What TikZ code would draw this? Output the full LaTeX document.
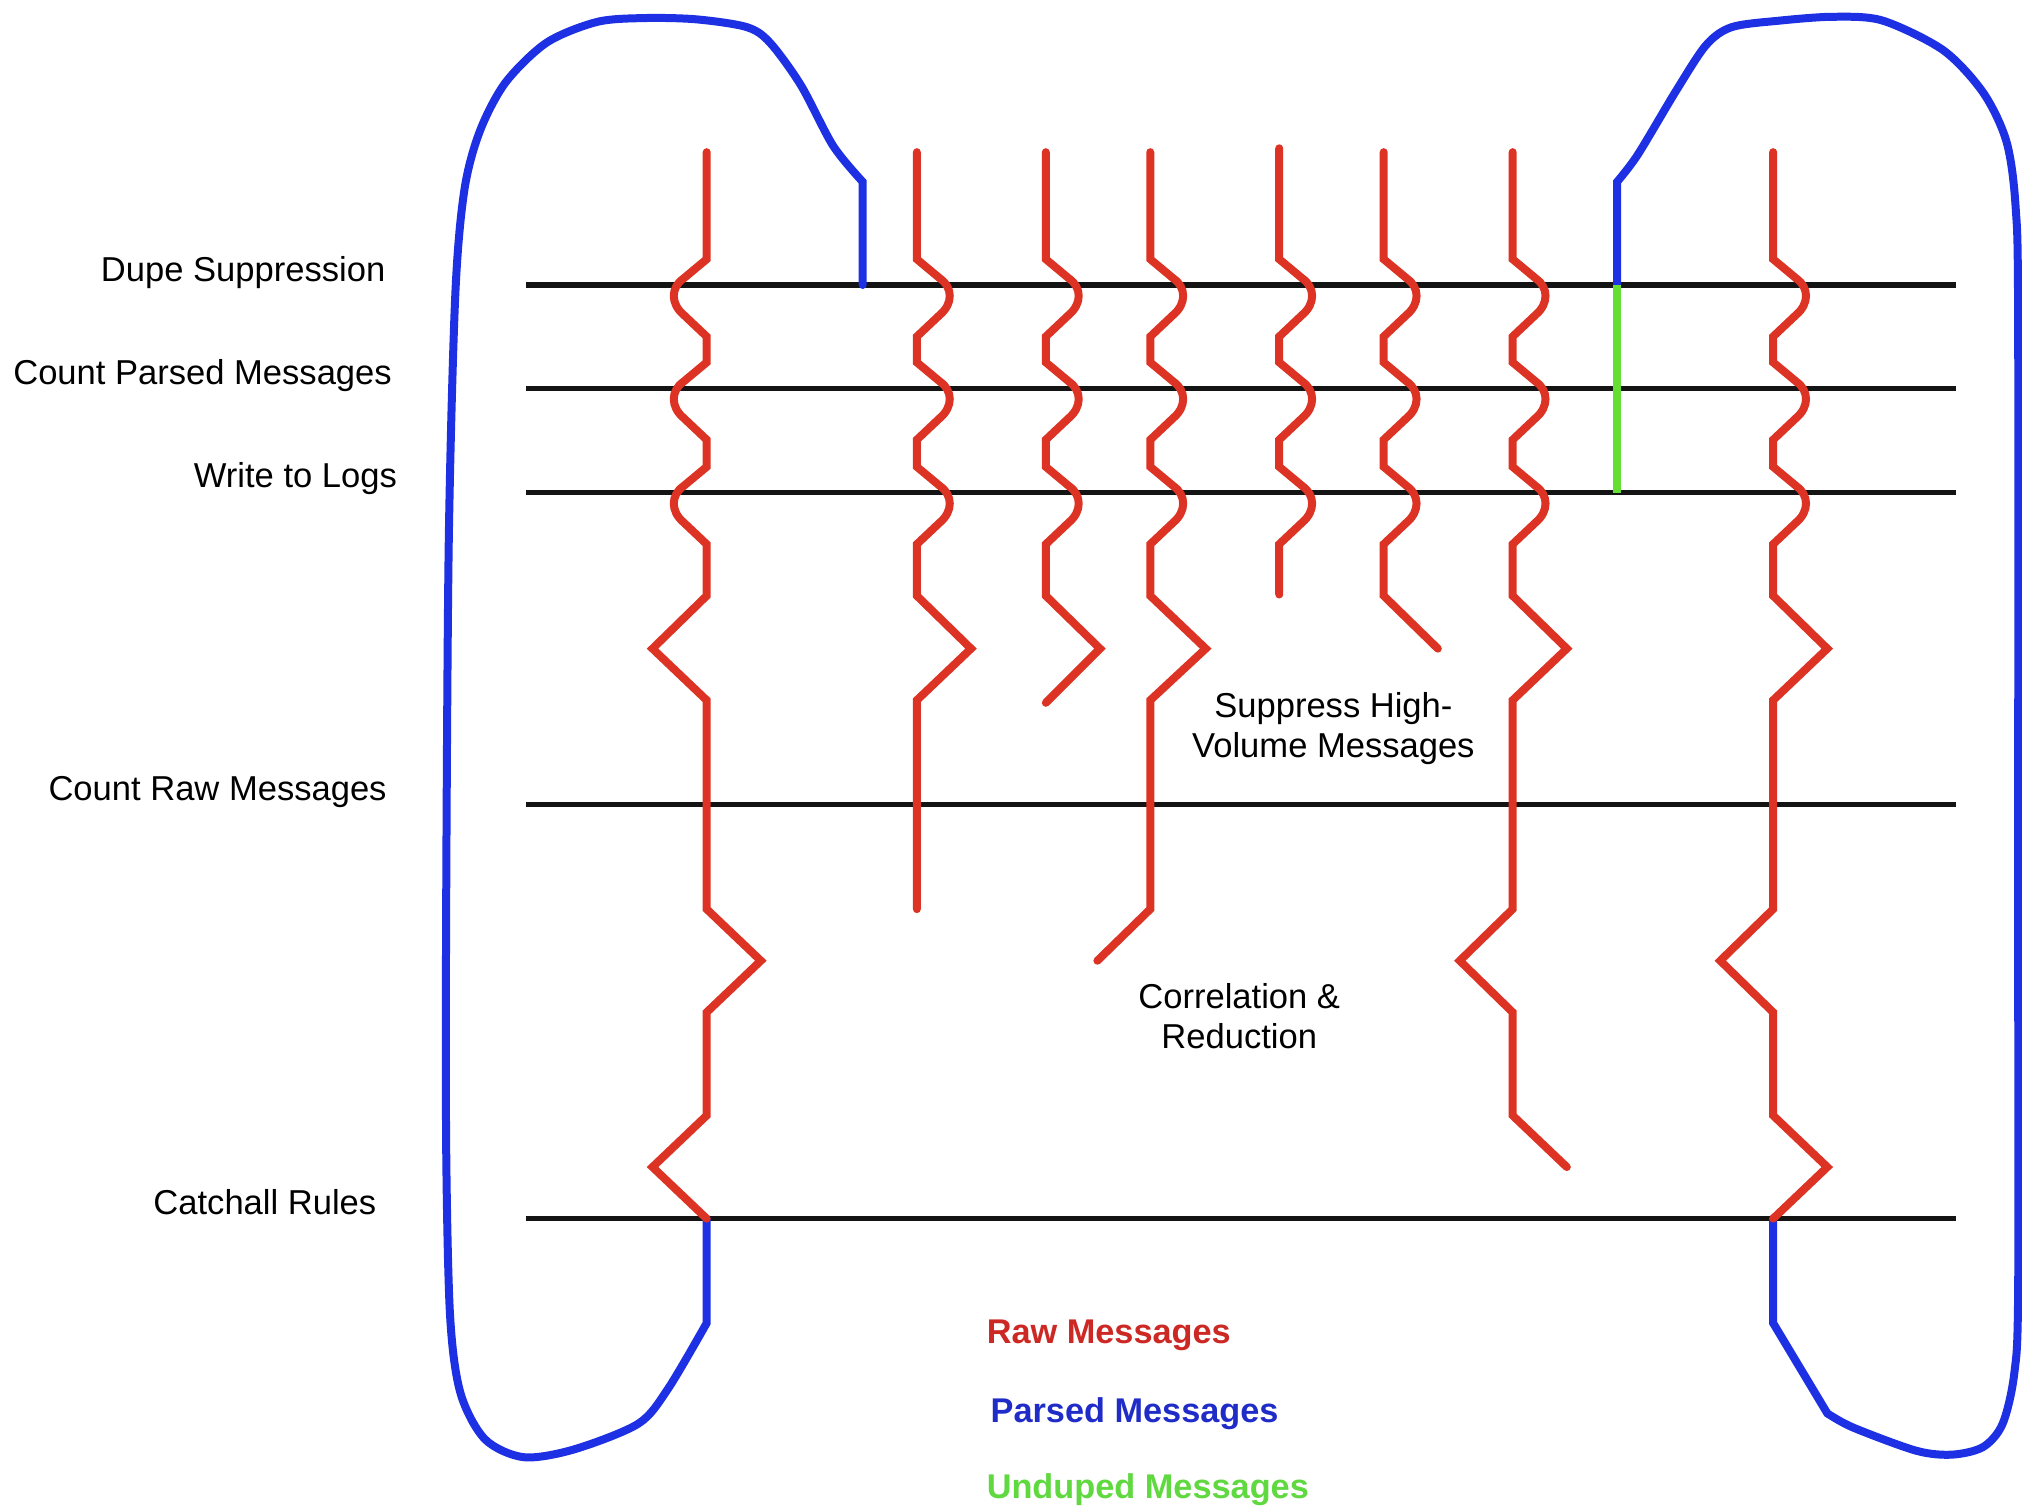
\documentclass[tikz,border=0pt]{standalone}
\usepackage{fontspec}
\setmainfont{Liberation Sans}

\definecolor{rawred}{RGB}{221,51,36}
\definecolor{parsedblue}{RGB}{30,48,228}
\definecolor{undupedgreen}{RGB}{102,222,52}
\definecolor{keyred}{RGB}{204,40,36}
\definecolor{keyblue}{RGB}{32,44,200}
\definecolor{keygreen}{RGB}{96,216,64}

\tikzset{
  stage/.style={line width=3.9pt, black!92},
  raw/.style={line width=6.2pt, rawred, line cap=round},
  parsed/.style={line width=6.2pt, parsedblue, line cap=round},
  unduped/.style={line width=6.2pt, undupedgreen},
  stagelabel/.style={anchor=base east, inner sep=0pt, font=\fontsize{26.8}{31.5}\selectfont},
  note/.style={align=center, inner sep=0pt, font=\fontsize{26.8}{31.5}\selectfont},
  keylabel/.style={anchor=base west, inner sep=0pt, font=\bfseries\fontsize{26.6}{31.5}\selectfont},
}

% three rounded bulges of a message line, one at each of the first three stages
% #1 = x of the line, #2 = side of the bulge (+1 right, -1 left)
\newcommand\msgwaves[2]{%
  \foreach \L in {221,301,382}{
    -- (#1,\L-20) -- ({#1+18*(#2)},\L-5)
    .. controls ({#1+28*(#2)},\L+2) and ({#1+28*(#2)},\L+14.5) .. ({#1+18*(#2)},\L+23)
    -- (#1,\L+40)}}

\begin{document}
\begin{tikzpicture}[x=1pt, y=-1pt]
  \useasboundingbox (0,0) rectangle (1568,1169);
  \fill[white] (0,0) rectangle (1568,1169);

  % processing stages
  \foreach \name/\y in {dupe/221, cparsed/301, logs/382, craw/624, catch/945}{
    \coordinate (\name W) at (408,\y);
    \coordinate (\name E) at (1517,\y);
    \draw[stage] (\name W) -- (\name E);
  }

  \node[stagelabel] (lblDupe)   at (299,218) {Dupe Suppression};
  \node[stagelabel] (lblParsed) at (304,298) {Count Parsed Messages};
  \node[stagelabel] (lblLogs)   at (308,378) {Write to Logs};
  \node[stagelabel] (lblRaw)    at (300,621) {Count Raw Messages};
  \node[stagelabel] (lblCatch)  at (292,942) {Catchall Rules};

  \node[note] (noteSuppress) at (1034,565) {Suppress High-\\Volume Messages};
  \node[note] (noteCorr)     at (961,788)  {Correlation \&\\Reduction};

  % parsed messages looping back on the left
  \draw[parsed] (669,221) -- (669,141) -- plot[smooth, tension=0.5] coordinates {
    (669,141) (646,113) (621,66) (597,33) (579,21) (540,15) (500,14) (463,17)
    (424,33) (392,64) (372,102) (360,148) (353,230) (348,420) (346,700)
    (346,890) (349,1020) (357,1080) (376,1116) (406,1130) (445,1124)
    (495,1104) (518,1077) (548,1026)} -- (548,945);

  % parsed messages looping back on the right
  \draw[parsed] (1254,221) -- (1254,141) -- plot[smooth, tension=0.5] coordinates {
    (1254,141) (1270,120) (1300,70) (1323,35) (1343,21) (1380,16) (1422,13)
    (1460,16) (1507,39) (1538,72) (1556,110) (1563,160) (1565,250) (1565,700)
    (1565,1000) (1562,1065) (1553,1104) (1538,1122) (1514,1128) (1486,1125)
    (1437,1107) (1417,1096)} -- (1375,1026) -- (1375,945);

  % unduped messages
  \draw[unduped] (dupeW -| 1254,0) -- (logsW -| 1254,0);

  % raw messages
  \draw[raw] (548,118) \msgwaves{548}{-1} -- (548,462) -- (506,503) -- (548,543)
    -- (548,705) -- (590,745) -- (548,785) -- (548,865) -- (506,905) -- (548,945);
  \draw[raw] (711,118) \msgwaves{711}{1} -- (711,462) -- (753,503) -- (711,543)
    -- (711,705);
  \draw[raw] (811,118) \msgwaves{811}{1} -- (811,462) -- (853,503) -- (811,545);
  \draw[raw] (892,118) \msgwaves{892}{1} -- (892,462) -- (935,503) -- (892,543)
    -- (892,705) -- (851,745);
  \draw[raw] (992,115) \msgwaves{992}{1} -- (992,461);
  \draw[raw] (1073,118) \msgwaves{1073}{1} -- (1073,462) -- (1115,503);
  \draw[raw] (1173,118) \msgwaves{1173}{1} -- (1173,462) -- (1215,503) -- (1173,543)
    -- (1173,705) -- (1132,745) -- (1173,785) -- (1173,865) -- (1215,905);
  \draw[raw] (1375,118) \msgwaves{1375}{1} -- (1375,462) -- (1417,503) -- (1375,543)
    -- (1375,705) -- (1334,745) -- (1375,785) -- (1375,865) -- (1417,905) -- (1375,945);

  % key
  \node[keylabel, text=keyred]   (keyRaw)     at (765,1042) {Raw Messages};
  \node[keylabel, text=keyblue]  (keyParsed)  at (768,1103) {Parsed Messages};
  \node[keylabel, text=keygreen] (keyUnduped) at (765,1162) {Unduped Messages};
\end{tikzpicture}
\end{document}
